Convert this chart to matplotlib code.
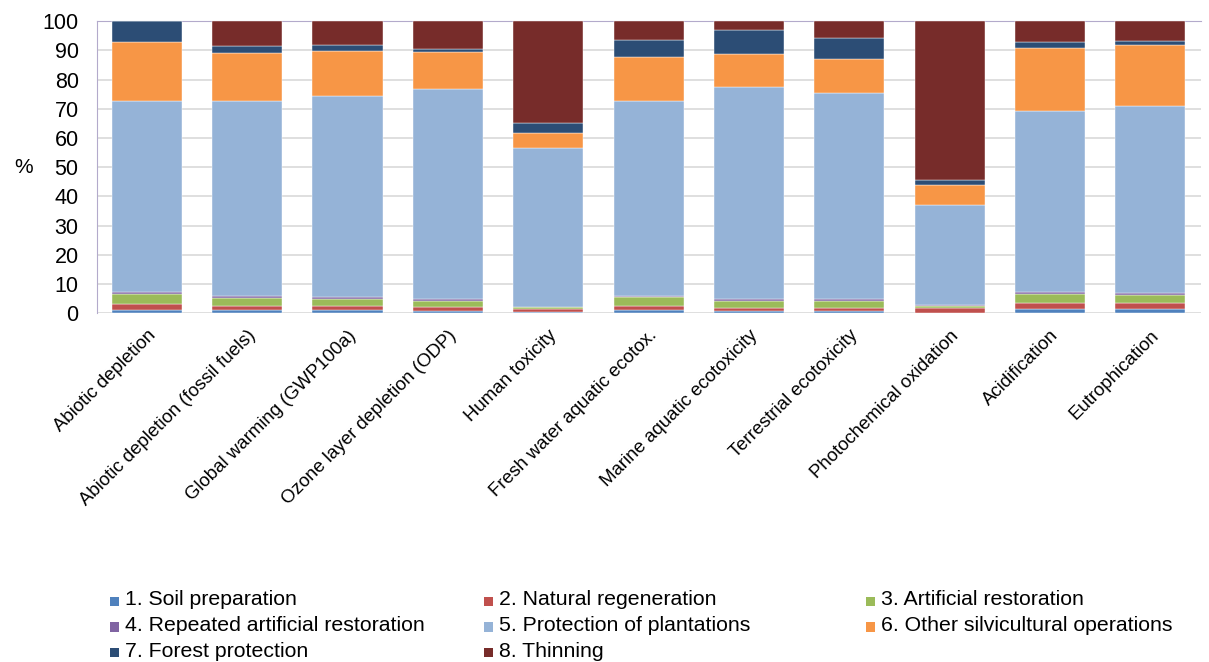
import matplotlib.pyplot as plt
import numpy as np
from matplotlib.patches import Rectangle

plt.rcParams["font.family"] = ["Liberation Sans", "DejaVu Sans"]

categories = [
    "Abiotic depletion",
    "Abiotic depletion (fossil fuels)",
    "Global warming (GWP100a)",
    "Ozone layer depletion (ODP)",
    "Human toxicity",
    "Fresh water aquatic ecotox.",
    "Marine aquatic ecotoxicity",
    "Terrestrial ecotoxicity",
    "Photochemical oxidation",
    "Acidification",
    "Eutrophication",
]

series_names = [
    "1. Soil preparation",
    "2. Natural regeneration",
    "3. Artificial restoration",
    "4. Repeated artificial restoration",
    "5. Protection of plantations",
    "6. Other silvicultural operations",
    "7. Forest protection",
    "8. Thinning",
]

soil_preparation = [1.2, 1.0, 0.9, 0.7, 0.3, 1.0, 0.6, 0.6, 0.2, 1.3, 1.3]
natural_regeneration = [1.9, 1.5, 1.6, 1.3, 1.0, 1.4, 1.1, 1.2, 1.6, 2.1, 2.1]
artificial_restoration = [3.5, 2.7, 2.3, 2.1, 0.7, 3.0, 2.5, 2.4, 0.7, 3.2, 2.8]
repeated_restoration = [0.6, 0.7, 0.7, 0.6, 0.2, 0.5, 0.6, 0.6, 0.2, 0.8, 0.8]
protection_plantations = [65.3, 66.7, 68.9, 71.9, 54.3, 66.6, 72.7, 70.5, 34.3, 61.8, 63.9]
other_silvicultural = [20.3, 16.5, 15.4, 12.9, 5.1, 15.4, 11.3, 11.9, 6.8, 21.7, 21.1]
forest_protection = [7.2, 2.3, 2.0, 1.1, 3.5, 5.7, 8.3, 7.0, 1.7, 2.1, 1.3]
thinning = [0.0, 8.6, 8.2, 9.4, 34.9, 6.4, 2.9, 5.8, 54.5, 7.0, 6.7]

colors = ["#4F81BD", "#C0504D", "#9BBB59", "#8064A2",
          "#95B3D7", "#F79646", "#2C4D75", "#772C2A"]

series = [soil_preparation, natural_regeneration, artificial_restoration,
          repeated_restoration, protection_plantations, other_silvicultural,
          forest_protection, thinning]

fig = plt.figure(figsize=(12.09, 6.62), dpi=100)
ax = fig.add_axes([0.080, 0.527, 0.913, 0.441])

x = np.arange(len(categories))
bottom = np.zeros(len(categories))
for vals, col, name in zip(series, colors, series_names):
    vals = np.array(vals)
    ax.bar(x, vals, 0.7, bottom=bottom, color=col, label=name, zorder=3,
           edgecolor="white", linewidth=0.3)
    bottom += vals

ax.set_xlim(-0.5, len(categories) - 0.5)
ax.set_ylim(0, 100)
ax.set_yticks(range(0, 101, 10))
ax.yaxis.grid(True, color="#D9D9D9", linewidth=1.2, zorder=0)
ax.tick_params(axis="y", labelsize=15.5, length=0, pad=13)
ax.tick_params(axis="x", length=0, pad=10)
ax.set_xticks(x)
ax.set_xticklabels(categories, rotation=45, ha="right", rotation_mode="anchor",
                   fontsize=13.4)
for side in ("right", "bottom"):
    ax.spines[side].set_visible(False)
ax.spines["left"].set_color("#B3AACB")
ax.spines["top"].set_color("#B3AACB")
ax.set_ylabel("%", rotation=0, fontsize=15, va="center")
ax.yaxis.set_label_coords(-0.066, 0.5)

# legend, three columns laid out row by row
col_x = [0.091, 0.400, 0.716]
row_y = [0.094, 0.055, 0.016]
for i, (name, col) in enumerate(zip(series_names, colors)):
    cx = col_x[i % 3]
    ry = row_y[i // 3]
    fig.patches.append(Rectangle((cx, ry - 0.009), 0.0075, 0.0137,
                                 transform=fig.transFigure, facecolor=col,
                                 edgecolor="none"))
    fig.text(cx + 0.0125, ry, name, fontsize=15.3, va="center", ha="left")

fig.savefig("out.png", dpi=100, facecolor="white")
